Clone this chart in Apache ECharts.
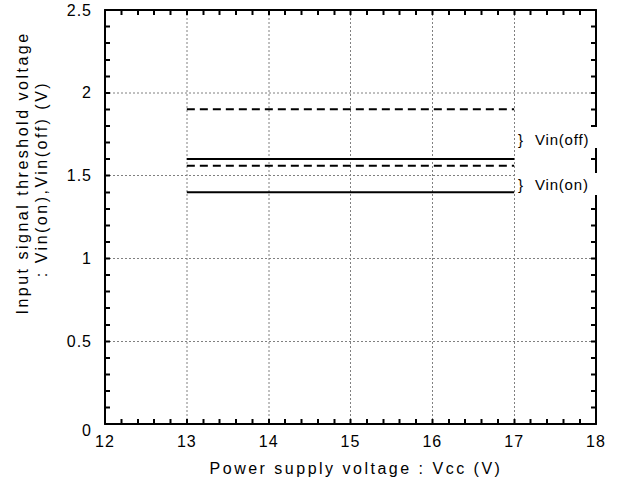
<!DOCTYPE html>
<html>
<head>
<meta charset="utf-8">
<script src="https://cdn.jsdelivr.net/npm/echarts@6/dist/echarts.min.js"></script>
<style>
html, body { margin: 0; padding: 0; background: #fff; overflow: hidden; }
#main { width: 1286px; height: 974px; position: absolute; left: 0; top: 0; transform: scale(0.5); transform-origin: 0 0; }
</style>
</head>
<body>
<div id="main"></div>
<script>
// supply voltage range the thresholds were measured over
var vcc = [13, 17];
var vinOffMax = [1.9, 1.9];
var vinOffMin = [1.6, 1.6];
var vinOnMax = [1.56, 1.56];
var vinOnMin = [1.4, 1.4];

var xTicks = [12, 13, 14, 15, 16, 17, 18];
var yTicks = [0, 0.5, 1, 1.5, 2, 2.5];

var font = 'Liberation Sans, Arial, sans-serif';
// drawn at double size and shrunk by css (ticks go missing at 1:1 otherwise)
var S = 2;

function pairs(xs, ys) {
    return xs.map(function(x, i) { return [x, ys[i]]; });
}

function lineSeries(name, values, dashed) {
    return {
        name: name,
        type: 'line',
        data: pairs(vcc, values),
        symbol: 'none',
        lineStyle: { color: '#000', width: 2 * S, type: dashed ? [8 * S, 5 * S] : 'solid' }
    };
}

function frameAxis(pos, min, max, interval, labels) {
    var ax = {
        type: 'value', position: pos, min: min, max: max, interval: interval,
        axisLine: { show: true, onZero: false, lineStyle: { color: '#000', width: 2 * S } },
        axisTick: { show: true, inside: true, length: 5 * S, lineStyle: { color: '#000', width: 2 * S } },
        minorTick: { show: true, splitNumber: 5, length: 5 * S, lineStyle: { color: '#000', width: 2 * S } },
        splitLine: { show: false }, axisLabel: { show: false }
    };
    if (labels) {
        ax.splitLine = { show: true, lineStyle: { color: '#808080', width: S, type: [2 * S, 2 * S] } };
        ax.axisLabel = labels;
    }
    return ax;
}

function txt(x, y, s, size, align, rot) {
    var el = { type: 'text', z: 101, x: x * S, y: y * S,
        style: { text: s, font: (size * S) + 'px ' + font, fill: '#000', textAlign: align, textVerticalAlign: 'middle' } };
    if (rot) el.rotation = rot;
    return el;
}

function whiteBox(x, y, w, h) {
    return { type: 'rect', z: 100, shape: { x: x * S, y: y * S, width: w * S, height: h * S }, style: { fill: '#fff' } };
}

var xMin = xTicks[0], xMax = xTicks[xTicks.length - 1];
var yMin = yTicks[0], yMax = yTicks[yTicks.length - 1];

var myChart = echarts.init(document.getElementById('main'), null, { renderer: 'svg' });
myChart.setOption({
    animation: false,
    grid: { left: 105 * S, right: 47 * S, top: 10 * S, bottom: 63 * S },
    xAxis: [
        frameAxis('bottom', xMin, xMax, 1, { show: true, color: '#000', fontFamily: font, fontSize: 16 * S, margin: 9 * S }),
        frameAxis('top', xMin, xMax, 1, null)
    ],
    yAxis: [
        frameAxis('left', yMin, yMax, 0.5, {
            show: true, color: '#000', fontFamily: font, fontSize: 16 * S, margin: 13 * S,
            formatter: function(v) { return v === 0 ? '{z|0}' : String(v); },
            rich: { z: { fontFamily: font, fontSize: 16 * S, color: '#000', padding: [12 * S, 0, 0, 0] } }
        }),
        frameAxis('right', yMin, yMax, 0.5, null)
    ],
    series: [
        lineSeries('Vin(off) max', vinOffMax, true),
        lineSeries('Vin(off) min', vinOffMin, false),
        lineSeries('Vin(on) max', vinOnMax, true),
        lineSeries('Vin(on) min', vinOnMin, false)
    ],
    graphic: [
        whiteBox(517, 127, 84, 21),
        whiteBox(517, 173, 84, 22),
        txt(518, 139, '}', 15, 'left'),
        txt(535, 139, 'Vin(off)', 15, 'left'),
        txt(518, 184, '}', 15, 'left'),
        txt(535, 184, 'Vin(on)', 15, 'left'),
        txt(356, 468, 'Power supply voltage : Vcc (V)', 16, 'center'),
        txt(22, 173, 'Input signal threshold voltage', 16, 'center', Math.PI / 2),
        txt(41, 179, ': Vin(on),Vin(off) (V)', 16, 'center', Math.PI / 2)
    ]
});

// the original lettering is loosely tracked
document.querySelectorAll('#main text').forEach(function(t) {
    var s = t.textContent;
    var ls = 1;
    if (s.length > 15) ls = 2.5;
    else if (s.indexOf('Vin') === 0) ls = 0.8;
    t.style.letterSpacing = (ls * S) + 'px';
});
</script>
</body>
</html>
